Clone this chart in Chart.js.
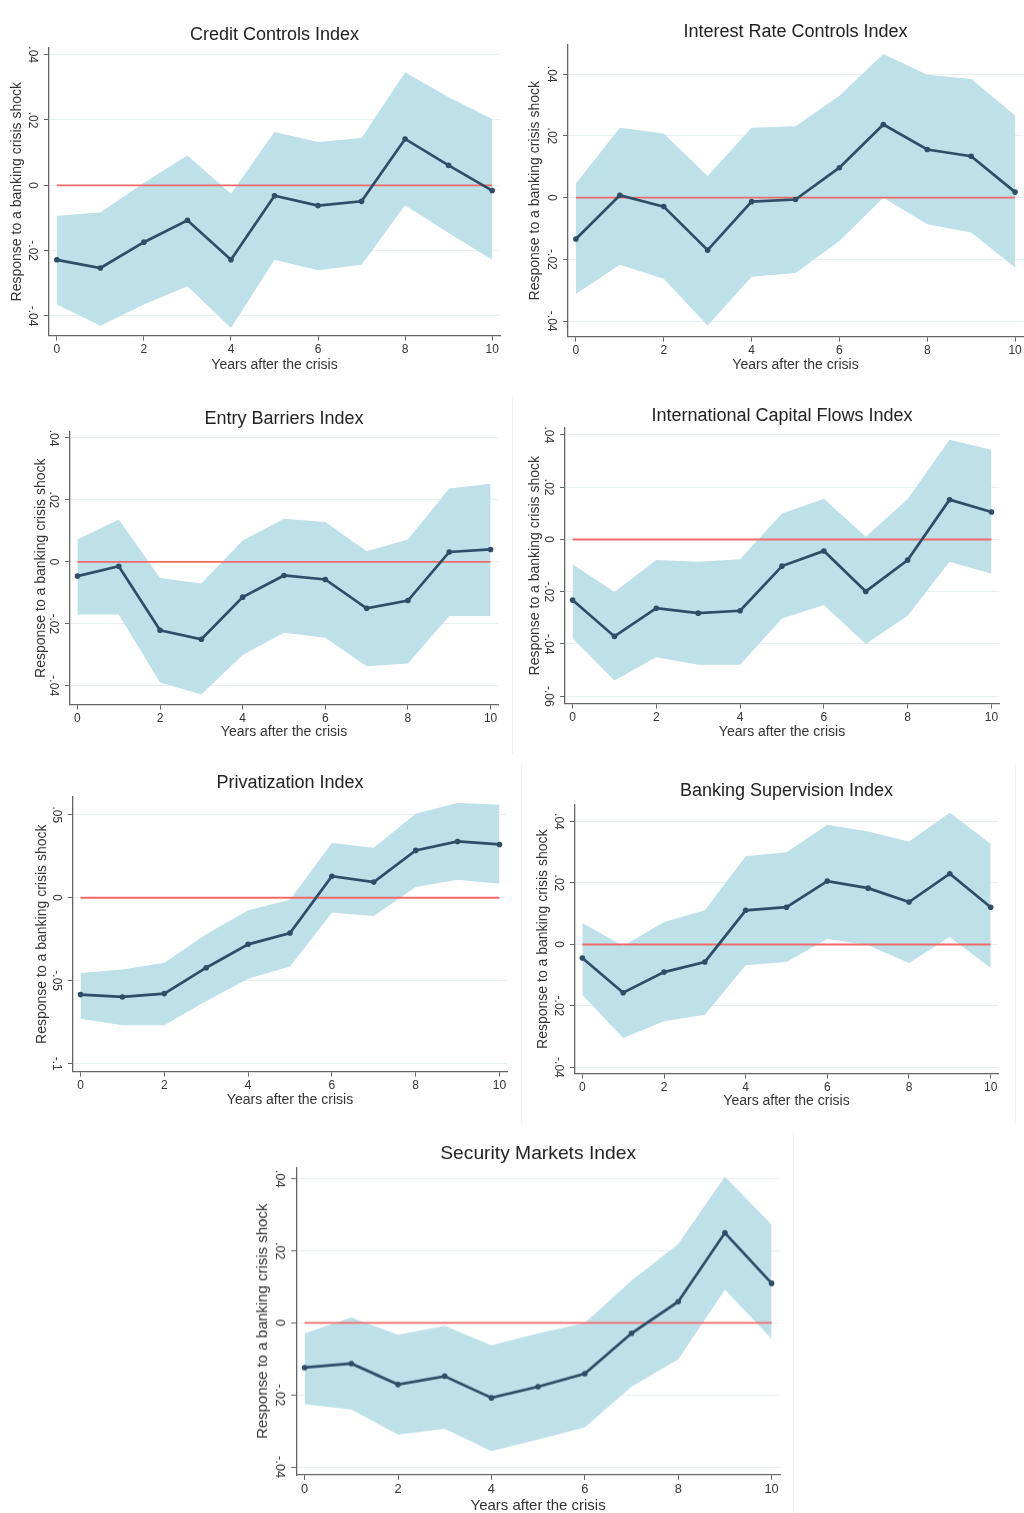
<!DOCTYPE html>
<html lang="en">
  <head>
    <meta charset="UTF-8" />
    <title>Responses to a banking crisis shock</title>
    <style>
      body { margin: 0; background: #fff; }
      #page { position: relative; width: 1024px; height: 1513px; overflow: hidden; }
      .panel { position: absolute; }
      .frame { position: absolute; border-color: #edf2f2; border-style: solid; border-width: 0; }
    </style>
  </head>
  <body>
    <div id="page">
      <div class="frame" style="left:512px; top:396px; height:358px; border-left-width:1px;"></div>
      <div class="frame" style="left:521px; top:763px; width:493px; height:362px; border-left-width:1px; border-right-width:1px;"></div>
      <div class="frame" style="left:793px; top:1133px; height:380px; border-left-width:1px;"></div>
    </div>

    <script src="https://cdn.jsdelivr.net/npm/chart.js"></script>
    <script>
      // years after the crisis
      var years = [0, 1, 2, 3, 4, 5, 6, 7, 8, 9, 10];
      var xTicks = [0, 2, 4, 6, 8, 10];

      // y ticks
      var yTicks = [-0.04, -0.02, 0, 0.02, 0.04];
      var yLabels = ["-.04", "-.02", "0", ".02", ".04"];
      var yTicksCap = [-0.06, -0.04, -0.02, 0, 0.02, 0.04];
      var yLabelsCap = ["-.06", "-.04", "-.02", "0", ".02", ".04"];
      var yTicksPriv = [-0.1, -0.05, 0, 0.05];
      var yLabelsPriv = ["-.1", "-.05", "0", ".05"];

      // point estimates and confidence bands
      var creditEst = [-0.0228, -0.0253, -0.0174, -0.0107, -0.0228, -0.0032, -0.0062, -0.0049, 0.0142, 0.0061, -0.0016];
      var creditUp  = [-0.0093, -0.0083, 0.0008, 0.0091, -0.0026, 0.0163, 0.0133, 0.0145, 0.0346, 0.027, 0.0203];
      var creditLo  = [-0.0365, -0.043, -0.0365, -0.0309, -0.0437, -0.0228, -0.026, -0.0243, -0.0061, -0.0146, -0.0228];

      var rateEst = [-0.0134, 0.0008, -0.0029, -0.017, -0.0013, -0.0006, 0.0097, 0.0237, 0.0156, 0.0134, 0.0018];
      var rateUp  = [0.0046, 0.0226, 0.0208, 0.007, 0.0226, 0.0231, 0.033, 0.0465, 0.0398, 0.0384, 0.0266];
      var rateLo  = [-0.0312, -0.0217, -0.0263, -0.0414, -0.0256, -0.0244, -0.014, 0.0, -0.0086, -0.0113, -0.0226];

      var entryEst = [-0.0046, -0.0014, -0.0221, -0.025, -0.0114, -0.0044, -0.0057, -0.015, -0.0125, 0.0032, 0.004];
      var entryUp  = [0.0072, 0.0137, -0.0052, -0.007, 0.0069, 0.0139, 0.0129, 0.0034, 0.0072, 0.0237, 0.0252];
      var entryLo  = [-0.017, -0.017, -0.039, -0.0428, -0.0301, -0.0229, -0.0245, -0.0337, -0.0328, -0.0175, -0.0175];

      var capEst = [-0.0232, -0.0371, -0.0263, -0.0282, -0.0273, -0.0102, -0.0044, -0.0199, -0.0079, 0.0152, 0.0105];
      var capUp  = [-0.0095, -0.0201, -0.0079, -0.0085, -0.0076, 0.0099, 0.0156, 0.001, 0.0155, 0.0381, 0.0343];
      var capLo  = [-0.0378, -0.054, -0.0451, -0.0479, -0.0479, -0.0302, -0.0251, -0.04, -0.0292, -0.0085, -0.0131];

      var privEst = [-0.0584, -0.0598, -0.0578, -0.0422, -0.0281, -0.0213, 0.0129, 0.0094, 0.0285, 0.0339, 0.0321];
      var privUp  = [-0.0454, -0.0432, -0.0392, -0.0221, -0.0076, -0.0012, 0.0329, 0.0301, 0.0506, 0.057, 0.056];
      var privLo  = [-0.0729, -0.0769, -0.0769, -0.0622, -0.0488, -0.0414, -0.009, -0.011, 0.0064, 0.0108, 0.0084];

      var supEst = [-0.0044, -0.0157, -0.009, -0.0057, 0.0111, 0.0121, 0.0206, 0.0183, 0.0138, 0.023, 0.0121];
      var supUp  = [0.007, -0.0005, 0.0073, 0.0111, 0.0287, 0.03, 0.0389, 0.0367, 0.0335, 0.0428, 0.0327];
      var supLo  = [-0.0164, -0.0304, -0.025, -0.0229, -0.0068, -0.0057, 0.0018, -0.0003, -0.006, 0.0024, -0.0077];

      var secEst = [-0.0124, -0.0113, -0.0171, -0.0148, -0.0208, -0.0177, -0.0141, -0.0029, 0.0059, 0.025, 0.011];
      var secUp  = [-0.0029, 0.0015, -0.0033, -0.0008, -0.0062, -0.0029, 0.0, 0.0117, 0.0219, 0.0406, 0.0273];
      var secLo  = [-0.0226, -0.024, -0.031, -0.0294, -0.0356, -0.0324, -0.029, -0.0177, -0.0101, 0.0092, -0.0044];

      var bandColor = "#bde0e9";
      var lineColor = "#2d4e66";
      var zeroColor = "#f06a6a";
      var fontFamily = "'Liberation Sans', Arial, sans-serif";

      // plot box = [left, top, right, bottom] of the axes in the page
      var panels = [
        { title: "Credit Controls Index", est: creditEst, up: creditUp, lo: creditLo,
          ticks: yTicks, labels: yLabels, ymin: -0.046, ymax: 0.0421,
          box: [49, 48, 500, 336], titleGap: 13, xTitleGap: 30, yTitleGap: 32, scale: 1 },
        { title: "Interest Rate Controls Index", est: rateEst, up: rateUp, lo: rateLo,
          ticks: yTicks, labels: yLabels, ymin: -0.045, ymax: 0.0495,
          box: [568, 45, 1023, 337], titleGap: 13, xTitleGap: 29, yTitleGap: 33, scale: 1 },
        { title: "Entry Barriers Index", est: entryEst, up: entryUp, lo: entryLo,
          ticks: yTicks, labels: yLabels, ymin: -0.0461, ymax: 0.042,
          box: [70, 432, 498, 705], titleGap: 13, xTitleGap: 28, yTitleGap: 29, scale: 1 },
        { title: "International Capital Flows Index", est: capEst, up: capUp, lo: capLo,
          ticks: yTicksCap, labels: yLabelsCap, ymin: -0.0628, ymax: 0.0427,
          box: [565, 428, 999, 704], titleGap: 12, xTitleGap: 29, yTitleGap: 30, scale: 1 },
        { title: "Privatization Index", est: privEst, up: privUp, lo: privLo,
          ticks: yTicksPriv, labels: yLabelsPriv, ymin: -0.1048, ymax: 0.0608,
          box: [73, 797, 507, 1072], titleGap: 14, xTitleGap: 29, yTitleGap: 31, scale: 1 },
        { title: "Banking Supervision Index", est: supEst, up: supUp, lo: supLo,
          ticks: yTicks, labels: yLabels, ymin: -0.042, ymax: 0.0454,
          box: [575, 805, 998, 1074], titleGap: 14, xTitleGap: 28, yTitleGap: 32, scale: 1 },
        { title: "Security Markets Index", est: secEst, up: secUp, lo: secLo,
          ticks: yTicks, labels: yLabels, ymin: -0.0422, ymax: 0.0431,
          box: [296, 1168, 780, 1475], titleGap: 14, xTitleGap: 31, yTitleGap: 33, scale: 1.07 }
      ];

      function pts(values) {
        return years.map(function (x, i) { return { x: x, y: values[i] }; });
      }

      function makePanel(p, n) {
        var titleSize = 18 * p.scale, axisSize = 14 * p.scale, tickSize = 12 * p.scale;
        var titleLh = titleSize * 1.2, axisLh = axisSize * 1.2;
        var yw = 46 * p.scale, rp = 10;
        var xh = p.xTitleGap + axisLh / 2;
        var l = p.box[0], t = p.box[1], r = p.box[2], b = p.box[3];

        var left = l - yw;
        var top = t - p.titleGap - titleLh / 2;
        var width = r - l + yw + rp;
        var height = b + xh - top;

        var div = document.createElement("div");
        div.className = "panel";
        div.style.left = left + "px";
        div.style.top = top + "px";
        var canvas = document.createElement("canvas");
        canvas.id = "chart" + n;
        canvas.width = width;
        canvas.height = height;
        canvas.style.width = width + "px";
        canvas.style.height = height + "px";
        div.appendChild(canvas);
        document.getElementById("page").appendChild(div);

        new Chart(canvas.getContext("2d"), {
          type: "line",
          data: {
            datasets: [
              { label: "lower", data: pts(p.lo), borderWidth: 0, borderColor: "transparent",
                pointRadius: 0, fill: false, order: 3 },
              { label: "upper", data: pts(p.up), borderWidth: 0, borderColor: "transparent",
                pointRadius: 0, fill: "-1", backgroundColor: bandColor, order: 3 },
              { label: "zero", data: [{ x: years[0], y: 0 }, { x: years[years.length - 1], y: 0 }],
                borderColor: zeroColor, borderWidth: 1.9, pointRadius: 0, fill: false, order: 2 },
              { label: "estimate", data: pts(p.est), borderColor: lineColor, borderWidth: 2.7,
                pointRadius: 2.8, pointBackgroundColor: lineColor, pointBorderWidth: 0,
                fill: false, order: 1 }
            ]
          },
          options: {
            responsive: false,
            animation: false,
            layout: { padding: { left: 0, top: 0, right: rp, bottom: 0 } },
            elements: { line: { tension: 0 } },
            plugins: {
              legend: { display: false },
              tooltip: { enabled: false },
              title: {
                display: true,
                text: p.title,
                fullSize: false,
                color: "#222",
                font: { family: fontFamily, size: titleSize, weight: "normal" },
                padding: { top: 0, bottom: p.titleGap - titleLh / 2 }
              }
            },
            scales: {
              x: {
                type: "linear",
                min: -0.18,
                max: 10.18,
                afterBuildTicks: function (s) { s.ticks = xTicks.map(function (v) { return { value: v }; }); },
                afterFit: function (s) { s.height = xh; },
                ticks: {
                  color: "#333",
                  padding: 2,
                  autoSkip: false,
                  maxRotation: 0,
                  font: { family: fontFamily, size: tickSize },
                  callback: function (v) { return String(v); }
                },
                grid: { drawOnChartArea: false, drawTicks: true, tickLength: 5, tickColor: "#666" },
                border: { display: true, color: "#666", width: 1.3 },
                title: {
                  display: true,
                  text: "Years after the crisis",
                  color: "#333",
                  font: { family: fontFamily, size: axisSize },
                  padding: { top: 0, bottom: 0 }
                }
              },
              y: {
                type: "linear",
                min: p.ymin,
                max: p.ymax,
                afterBuildTicks: function (s) { s.ticks = p.ticks.map(function (v) { return { value: v }; }); },
                afterFit: function (s) { s.width = yw; },
                ticks: {
                  color: "#333",
                  padding: 1,
                  minRotation: -90,
                  maxRotation: -90,
                  crossAlign: "center",
                  font: { family: fontFamily, size: tickSize },
                  callback: function (v) {
                    var i = p.ticks.indexOf(v);
                    return i >= 0 ? p.labels[i] : "";
                  }
                },
                grid: { color: "#e6eff2", lineWidth: 1, drawTicks: true, tickLength: 5, tickColor: "#666" },
                border: { display: true, color: "#666", width: 1.3 },
                title: {
                  display: true,
                  text: "Response to a banking crisis shock",
                  color: "#333",
                  font: { family: fontFamily, size: axisSize },
                  padding: { top: yw - p.yTitleGap - axisLh / 2, bottom: 0 }
                }
              }
            }
          }
        });
      }

      panels.forEach(makePanel);
    </script>
  </body>
</html>
